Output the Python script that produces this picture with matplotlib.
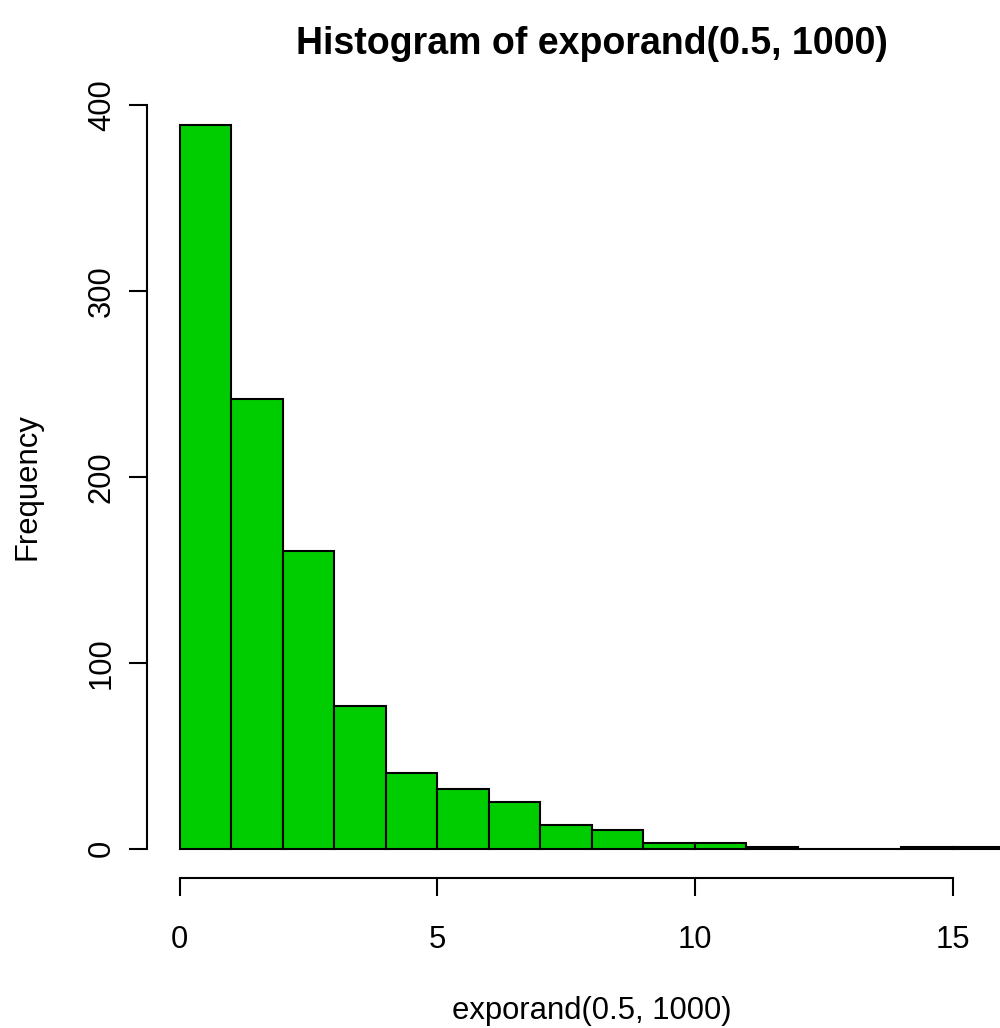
import numpy as np
import matplotlib
matplotlib.use('Agg')
import matplotlib.pyplot as plt

# histogram counts, bins of width 1 from 0 to 16
bin_edges = list(range(0, 17))
counts = [389, 242, 160, 77, 41, 32, 25, 13, 10, 3, 3, 1, 0, 0, 1, 1]
x_ticks = [0, 5, 10, 15]
y_ticks = [0, 100, 200, 300, 400]

title = 'Histogram of exporand(0.5, 1000)'
xlabel = 'exporand(0.5, 1000)'
ylabel = 'Frequency'

plt.rcParams['font.family'] = ['Liberation Sans', 'DejaVu Sans']

W, H = 1000, 1028
fig = plt.figure(figsize=(W / 100, H / 100), dpi=100)

# plot region in pixels (runs past the right edge, as in the reference)
left, right, top, bottom = 146.7, 1037.0, 96.3, 877.7
ax = fig.add_axes([left / W, 1 - bottom / H, (right - left) / W, (bottom - top) / H])
ax.set_facecolor('none')

edges = np.array(bin_edges, dtype=float)
ax.bar(edges[:-1], counts, width=np.diff(edges), align='edge',
       color='#00CD00', edgecolor='black', linewidth=1.5)

# R style: 4% padding on both axes
xr = edges[-1] - edges[0]
yr = max(counts)
ax.set_xlim(edges[0] - 0.04 * xr, edges[-1] + 0.04 * xr)
ax.set_ylim(-0.04 * yr, yr * 1.04)

for s in ['top', 'right']:
    ax.spines[s].set_visible(False)
ax.spines['bottom'].set_bounds(x_ticks[0], x_ticks[-1])
ax.spines['left'].set_bounds(y_ticks[0], y_ticks[-1])
for s in ['bottom', 'left']:
    ax.spines[s].set_linewidth(1.5)

ax.set_xticks(x_ticks)
ax.set_yticks(y_ticks)
ax.set_yticklabels([str(v) for v in y_ticks], rotation=90, va='center')
ax.tick_params(direction='out', length=13, width=1.5, labelsize=22.3)
ax.tick_params(axis='x', pad=21)
ax.tick_params(axis='y', pad=8.5)

cx = (left + right) / 2 / W
fig.text(cx, 1 - 44 / H, title, ha='center', va='center',
         fontsize=27, fontweight='bold')
fig.text(cx, 1 - 1011 / H, xlabel, ha='center', va='center', fontsize=22.3)
fig.text(28 / W, 1 - (top + bottom) / 2 / H, ylabel, ha='center', va='center',
         rotation=90, fontsize=22.3)

fig.savefig('out.png', dpi=100)
